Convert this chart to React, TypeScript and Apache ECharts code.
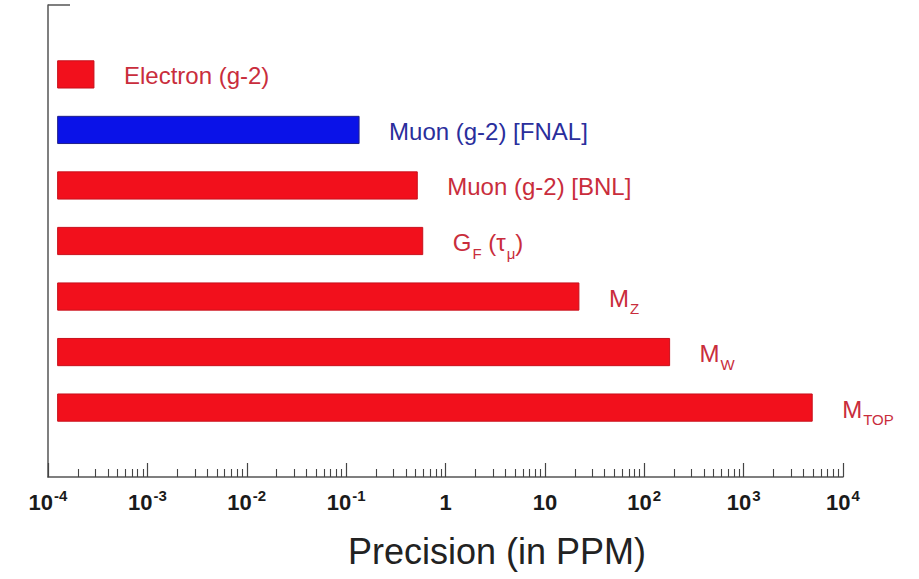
import React, { useEffect, useRef } from "react";
import * as echarts from "echarts";

// ---- data ----
const categoryLabels = [
  "Electron (g-2)",
  "Muon (g-2) [FNAL]",
  "Muon (g-2) [BNL]",
  "G_F (τ_μ)",
  "M_Z",
  "M_W",
  "M_TOP",
];
const precisionPPM = [0.00029, 0.135, 0.52, 0.59, 22, 180, 4900];
const isProjected = [false, true, false, false, false, false, false];
const barBasePPM = 1.25e-4;
const decadeExponents = [-4, -3, -2, -1, 0, 1, 2, 3, 4];
const minorMultipliers = [2, 3, 4, 5, 6, 7, 8, 9];
const axisTitle = "Precision (in PPM)";

const RED = "#f2101c";
const RED_EDGE = "#c8101c";
const BLUE = "#0a12e8";
const BLUE_EDGE = "#20208a";
const RED_TEXT = "#c92d3c";
const BLUE_TEXT = "#2a2e9c";

function toRich(label: string): string {
  const parts: string[] = [];
  const re = /_([^\s)]+)/g;
  let last = 0;
  let m: RegExpExecArray | null;
  while ((m = re.exec(label)) !== null) {
    if (m.index > last) parts.push(`{m|${label.slice(last, m.index)}}`);
    parts.push(`{s|${m[1]}}`);
    last = m.index + m[0].length;
  }
  if (last < label.length) parts.push(`{m|${label.slice(last)}}`);
  return parts.join("");
}

function tickLabel(v: number): string {
  const n = Math.round(v);
  if (n === 0) return "{b|1}";
  if (n === 1) return "{b|10}";
  return `{b|10}{s|${n}}`;
}

const minorLogs: number[] = [];
decadeExponents.slice(0, -1).forEach((e) => {
  minorMultipliers.forEach((k) => minorLogs.push(Math.log10(k * Math.pow(10, e))));
});

export default function App() {
  const ref = useRef<HTMLDivElement>(null);
  useEffect(() => {
    if (!ref.current) return;
    const chart = echarts.init(ref.current, undefined, { renderer: "svg" });
    const data = precisionPPM.map((v, i) => [i, Math.log10(v)]);
    const option: any = {
      animation: false,
      backgroundColor: "#ffffff",
      grid: { left: 48, right: 76, top: 5, bottom: 102 },
      xAxis: [
        {
          type: "value",
          min: decadeExponents[0],
          max: decadeExponents[decadeExponents.length - 1],
          interval: 1,
          axisLine: { show: true, onZero: false, lineStyle: { color: "#555", width: 1.5 } },
          axisTick: { show: true, inside: true, length: 14, lineStyle: { color: "#444", width: 1.2 } },
          splitLine: { show: false },
          axisLabel: {
            margin: 11,
            formatter: tickLabel,
            rich: {
              b: { fontSize: 22, fontWeight: "bold", fontFamily: "Liberation Sans", color: "#1a1a1a", lineHeight: 25, verticalAlign: "bottom" },
              s: { fontSize: 15, fontWeight: "bold", fontFamily: "Liberation Sans", color: "#1a1a1a", lineHeight: 15, verticalAlign: "top", padding: [0, 0, 0, 1] },
            },
          },
          name: axisTitle,
          nameLocation: "middle",
          nameGap: 56,
          nameTextStyle: { fontSize: 36, fontFamily: "Liberation Sans", color: "#222", padding: [0, 0, 0, 103] },
        },
        {
          type: "value",
          min: decadeExponents[0],
          max: decadeExponents[decadeExponents.length - 1],
          position: "bottom",
          axisLine: { show: false, onZero: false },
          axisTick: { show: true, inside: true, length: 8, customValues: minorLogs, lineStyle: { color: "#444", width: 1.1 } },
          axisLabel: { show: false },
          splitLine: { show: false },
        },
      ],
      yAxis: {
        type: "value",
        inverse: true,
        min: -1.25,
        max: 7.25,
        axisLine: { show: true, onZero: false, lineStyle: { color: "#555", width: 1.5 } },
        axisTick: { show: true, inside: true, length: 22, customValues: [-1.25], lineStyle: { color: "#555", width: 1.5 } },
        axisLabel: { show: false },
        splitLine: { show: false },
      },
      series: [
        {
          type: "custom",
          xAxisIndex: 0,
          yAxisIndex: 0,
          encode: { x: 1, y: 0 },
          data,
          renderItem: (params: any, api: any) => {
            const idx = api.value(0);
            const v = api.value(1);
            const start = api.coord([Math.log10(barBasePPM), idx]);
            const end = api.coord([v, idx]);
            const h = api.size([0, 1])[1] * 0.49;
            const proj = isProjected[idx];
            const txtColor = proj ? BLUE_TEXT : RED_TEXT;
            return {
              type: "group",
              children: [
                {
                  type: "rect",
                  shape: { x: start[0], y: start[1] - h / 2, width: end[0] - start[0], height: h },
                  style: { fill: proj ? BLUE : RED, stroke: proj ? BLUE_EDGE : RED_EDGE, lineWidth: 1 },
                },
                {
                  type: "text",
                  x: end[0] + 30,
                  y: end[1],
                  style: {
                    text: toRich(categoryLabels[idx]),
                    align: "left",
                    verticalAlign: "middle",
                    rich: {
                      m: { fontSize: 24, fontFamily: "Liberation Sans", fill: txtColor, color: txtColor, lineHeight: 27, verticalAlign: "bottom" },
                      s: { fontSize: 15, fontFamily: "Liberation Sans", fill: txtColor, color: txtColor, lineHeight: 16, verticalAlign: "bottom", padding: [0, 0, -6, 1] },
                    },
                  },
                },
              ],
            };
          },
        },
      ],
    };
    chart.setOption(option);
    return () => chart.dispose();
  }, []);
  return <div ref={ref} style={{ width: 919, height: 579, position: "absolute", left: 0, top: 0 }} />;
}
